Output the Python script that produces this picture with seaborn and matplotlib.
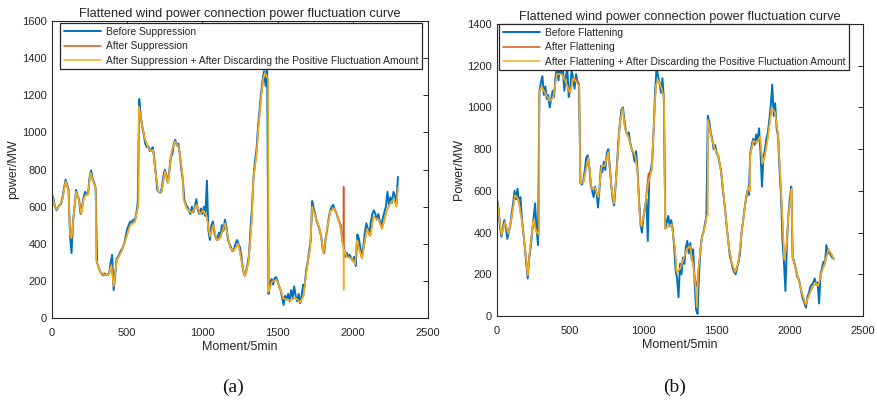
import numpy as np
import pandas as pd
import matplotlib
matplotlib.use("Agg")
import matplotlib.pyplot as plt
import seaborn as sns

# ---------------- data: panel (a) ----------------
moment_before_a = list(range(0, 2301, 10))
before_a = [
    665, 640, 600, 580, 595, 610, 615, 650, 700, 745, 720, 690, 440, 350, 520, 600, 690, 660, 640, 560,
    600, 650, 680, 665, 670, 760, 795, 750, 730, 700, 300, 270, 250, 240, 230, 240, 230, 235, 240, 300,
    340, 150, 230, 320, 330, 350, 365, 380, 400, 440, 480, 500, 520, 510, 530, 525, 560, 620, 1180, 1090,
    1030, 990, 940, 920, 925, 900, 910, 920, 860, 780, 690, 680, 675, 700, 760, 800, 770, 730, 790, 870,
    880, 940, 960, 930, 940, 880, 800, 740, 640, 610, 600, 580, 560, 600, 570, 600, 640, 580, 560, 590,
    560, 600, 550, 740, 470, 420, 500, 520, 460, 430, 420, 460, 440, 500, 470, 530, 490, 420, 400, 380,
    360, 370, 400, 420, 400, 380, 330, 260, 230, 250, 290, 340, 480, 600, 760, 850, 910, 1030, 1120, 1210,
    1280, 1330, 1250, 1380, 130, 190, 210, 180, 215, 220, 200, 170, 150, 110, 70, 120, 100, 130, 90, 150,
    110, 170, 120, 90, 130, 80, 120, 180, 170, 260, 300, 360, 420, 630, 590, 560, 520, 500, 470, 440,
    370, 350, 430, 480, 540, 580, 600, 610, 580, 570, 540, 520, 500, 420, 380, 330, 350, 330, 340, 320,
    310, 330, 280, 450, 430, 380, 330, 380, 460, 510, 480, 450, 520, 560, 580, 560, 530, 560, 520, 500,
    540, 570, 600, 680, 610, 650, 620, 680, 660, 620, 760,
]

moment_after_a = [
    0, 20, 30, 50, 70, 90, 110, 120, 130, 145, 160, 175, 195, 210, 225, 240, 255, 270, 290, 295,
    320, 345, 375, 395, 410, 430, 463, 496, 519, 552, 574, 578, 596, 618, 640, 662, 673, 685, 707, 729,
    751, 773, 796, 818, 840, 851, 869, 875, 896, 929, 962, 984, 1006, 1028, 1050, 1072, 1095, 1117, 1151, 1184,
    1206, 1239, 1273, 1284, 1306, 1328, 1338, 1361, 1372, 1383, 1394, 1405, 1416, 1427, 1437, 1440, 1461, 1494, 1516, 1538,
    1583, 1617, 1650, 1672, 1694, 1716, 1730, 1761, 1783, 1805, 1827, 1850, 1872, 1894, 1916, 1937, 1939, 1941, 1961, 1994,
    2016, 2027, 2061, 2094, 2116, 2138, 2172, 2194, 2227, 2250, 2272, 2290, 2300,
]
after_a = [
    660, 600, 585, 605, 640, 735, 690, 450, 430, 560, 680, 650, 560, 640, 665, 665, 785, 745, 700, 310,
    250, 232, 232, 285, 170, 310, 360, 440, 500, 520, 610, 1140, 1050, 965, 915, 900, 905, 800, 680, 680,
    790, 730, 900, 950, 925, 880, 760, 640, 590, 565, 610, 560, 580, 550, 440, 500, 420, 430, 510, 380,
    360, 400, 250, 225, 300, 520, 740, 890, 1020, 1120, 1220, 1290, 1320, 1300, 1290, 140, 195, 205, 160, 105,
    95, 110, 85, 120, 265, 375, 600, 525, 470, 350, 470, 575, 590, 560, 500, 400, 707, 370, 330, 320,
    290, 420, 320, 480, 440, 545, 530, 480, 580, 620, 640, 600, 700,
]
after_disc_a = [
    660, 600, 585, 605, 640, 735, 690, 450, 430, 560, 680, 650, 560, 640, 665, 665, 785, 745, 700, 310,
    250, 232, 232, 285, 170, 310, 360, 440, 500, 520, 610, 1140, 1050, 965, 915, 900, 905, 800, 680, 680,
    790, 730, 900, 950, 925, 880, 760, 640, 590, 565, 610, 560, 580, 550, 440, 500, 420, 430, 510, 380,
    360, 400, 250, 225, 300, 520, 740, 890, 1020, 1120, 1220, 1290, 1320, 1300, 1290, 140, 195, 205, 160, 105,
    95, 110, 85, 120, 265, 375, 600, 525, 470, 350, 470, 575, 590, 560, 500, 380, 151, 370, 330, 320,
    290, 420, 320, 480, 440, 545, 530, 480, 580, 620, 640, 600, 700,
]

# ---------------- data: panel (b) ----------------
moment_before_b = list(range(0, 2301, 10))
before_b = [
    560, 520, 430, 380, 420, 460, 430, 370, 400, 430, 490, 540, 600, 560, 610, 540, 570, 470, 400, 330,
    250, 180, 280, 330, 400, 470, 540, 420, 340, 1080, 1120, 1150, 1060, 1100, 1040, 1060, 1000, 1040, 1080, 1050,
    1150, 1190, 1130, 1200, 1160, 1180, 1080, 1150, 1190, 1050, 1090, 1180, 1140, 1090, 1160, 1120, 1110, 640, 630, 650,
    700, 760, 770, 720, 630, 600, 570, 620, 590, 520, 610, 720, 690, 740, 700, 780, 800, 720, 630, 560,
    530, 620, 730, 850, 930, 990, 1000, 940, 890, 870, 880, 830, 800, 780, 740, 790, 700, 560, 440, 400,
    470, 520, 560, 360, 660, 700, 740, 890, 1080, 1190, 1150, 1120, 1070, 1140, 1040, 420, 450, 480, 430, 460,
    420, 330, 220, 180, 90, 250, 200, 280, 250, 330, 360, 300, 350, 270, 320, 160, 30, 10, 200, 320,
    380, 400, 440, 480, 960, 930, 880, 850, 800, 820, 780, 770, 730, 700, 620, 560, 500, 420, 360, 290,
    260, 230, 210, 200, 230, 260, 300, 400, 450, 510, 560, 600, 580, 780, 820, 850, 820, 870, 840, 900,
    780, 620, 760, 800, 850, 880, 940, 1010, 1110, 960, 1020, 900, 860, 700, 580, 360, 260, 120, 340, 480,
    560, 620, 280, 260, 230, 190, 180, 150, 110, 80, 60, 40, 90, 110, 140, 150, 160, 180, 150, 160,
    60, 200, 230, 260, 250, 340, 300, 310, 290, 280, 275,
]

moment_after_b = [
    0, 30, 55, 77, 100, 123, 146, 169, 191, 210, 225, 248, 271, 287, 289, 305, 328, 362, 385, 408,
    442, 465, 499, 521, 544, 562, 568, 590, 624, 646, 669, 692, 715, 737, 760, 783, 799, 817, 840, 858,
    874, 897, 920, 943, 959, 977, 988, 1011, 1034, 1057, 1068, 1086, 1102, 1125, 1141, 1148, 1170, 1193, 1216, 1227,
    1250, 1273, 1296, 1318, 1341, 1359, 1365, 1375, 1398, 1421, 1432, 1438, 1440, 1467, 1489, 1512, 1535, 1558, 1580, 1603,
    1626, 1649, 1671, 1694, 1717, 1727, 1729, 1751, 1774, 1797, 1812, 1830, 1853, 1876, 1899, 1921, 1933, 1949, 1962, 1978,
    1990, 2005, 2012, 2019, 2035, 2058, 2081, 2108, 2126, 2149, 2172, 2194, 2217, 2240, 2263, 2281, 2300,
]
after_b = [
    560, 390, 450, 395, 470, 580, 560, 460, 330, 195, 320, 460, 400, 390, 1076, 1100, 1070, 1030, 1050, 1160,
    1160, 1130, 1070, 1140, 1135, 1110, 636, 640, 760, 610, 615, 570, 720, 720, 785, 610, 540, 690, 930, 995,
    900, 860, 800, 770, 700, 450, 430, 520, 680, 700, 870, 1110, 1130, 1090, 1040, 420, 430, 440, 320, 210,
    225, 270, 320, 335, 240, 150, 140, 220, 370, 430, 480, 480, 940, 850, 800, 770, 670, 510, 350, 255,
    210, 255, 400, 530, 620, 600, 770, 840, 830, 860, 730, 770, 870, 1000, 975, 860, 700, 480, 270, 340,
    480, 560, 610, 280, 240, 180, 115, 55, 90, 130, 160, 145, 210, 255, 320, 300, 275,
]
after_disc_b = [
    560, 390, 450, 395, 470, 580, 560, 460, 330, 195, 320, 460, 400, 390, 1076, 1100, 1070, 1030, 1050, 1160,
    1160, 1130, 1070, 1140, 1120, 1100, 636, 640, 760, 610, 615, 570, 720, 720, 785, 610, 540, 690, 930, 995,
    900, 860, 800, 770, 700, 450, 430, 520, 640, 700, 870, 1110, 1130, 1090, 1040, 420, 430, 440, 320, 210,
    225, 270, 320, 335, 240, 120, 40, 220, 370, 430, 480, 480, 940, 850, 800, 770, 670, 510, 350, 255,
    210, 255, 400, 530, 620, 600, 770, 840, 830, 860, 730, 770, 870, 1000, 975, 860, 700, 480, 270, 340,
    480, 560, 610, 280, 240, 180, 115, 55, 90, 130, 160, 145, 210, 255, 320, 300, 275,
]

title_text = "Flattened wind power connection power fluctuation curve"
labels_a = ["Before Suppression", "After Suppression",
            "After Suppression + After Discarding the Positive Fluctuation Amount"]
labels_b = ["Before Flattening", "After Flattening",
            "After Flattening + After Discarding the Positive Fluctuation Amount"]
xticks = [0, 500, 1000, 1500, 2000, 2500]
yticks_a = [0, 200, 400, 600, 800, 1000, 1200, 1400, 1600]
yticks_b = [0, 200, 400, 600, 800, 1000, 1200, 1400]

# ---------------- styling ----------------
sns.set_style("white")
plt.rcParams["font.family"] = ["Liberation Sans", "DejaVu Sans"]

BLUE = "#0072BD"
RED = "#D95319"
YEL = "#EDB120"

fig = plt.figure(figsize=(8.78, 4.03), dpi=100)
ax_a = fig.add_axes([52 / 878, 1 - 318 / 403, 376 / 878, 297 / 403])
ax_b = fig.add_axes([497 / 878, 1 - 316 / 403, 366 / 878, 292 / 403])


def draw(ax, xb, yb, xa, ya, yd, labels, ymax, yticks, ylabel, anchor):
    sns.lineplot(x=xb, y=yb, ax=ax, color=BLUE, lw=1.4, label=labels[0],
                 estimator=None, sort=False)
    sns.lineplot(x=xa, y=ya, ax=ax, color=RED, lw=1.1, label=labels[1],
                 estimator=None, sort=False)
    sns.lineplot(x=xa, y=yd, ax=ax, color=YEL, lw=1.1, label=labels[2],
                 estimator=None, sort=False)
    ax.set_xlim(0, 2500)
    ax.set_ylim(0, ymax)
    ax.set_xticks(xticks)
    ax.set_yticks(yticks)
    ax.tick_params(direction="in", top=True, right=True, length=3.5, width=0.7,
                   labelsize=8, colors="#262626")
    ax.tick_params(axis="x", pad=7)
    ax.tick_params(axis="y", pad=3.5)
    for s in ax.spines.values():
        s.set_visible(True)
        s.set_color("#262626")
        s.set_linewidth(0.8)
    ax.set_title(title_text, fontsize=9.2, color="#262626", pad=3)
    ax.set_xlabel("Moment/5min", fontsize=9, color="#262626", labelpad=2.5)
    ax.set_ylabel(ylabel, fontsize=9, color="#262626", labelpad=2)
    leg = ax.legend(loc="upper left", bbox_to_anchor=anchor, fontsize=7.4,
                    frameon=True, fancybox=False, framealpha=1,
                    edgecolor="#262626", borderpad=0.35, labelspacing=0.45,
                    handlelength=3.6, handletextpad=0.5, borderaxespad=0.0)
    leg.get_frame().set_linewidth(0.9)
    leg.set_zorder(10)


draw(ax_a, moment_before_a, before_a, moment_after_a, after_a, after_disc_a,
     labels_a, 1600, yticks_a, "power/MW", (8 / 376, 1 - 2 / 297))
draw(ax_b, moment_before_b, before_b, moment_after_b, after_b, after_disc_b,
     labels_b, 1400, yticks_b, "Power/MW", (2 / 366, 1.0))

fig.text(233 / 878, 1 - 387 / 403, "(a)", ha="center", va="center",
         fontsize=14, family="Liberation Serif", color="#111111")
fig.text(675 / 878, 1 - 387 / 403, "(b)", ha="center", va="center",
         fontsize=14, family="Liberation Serif", color="#111111")

fig.savefig("out.png", dpi=100)
